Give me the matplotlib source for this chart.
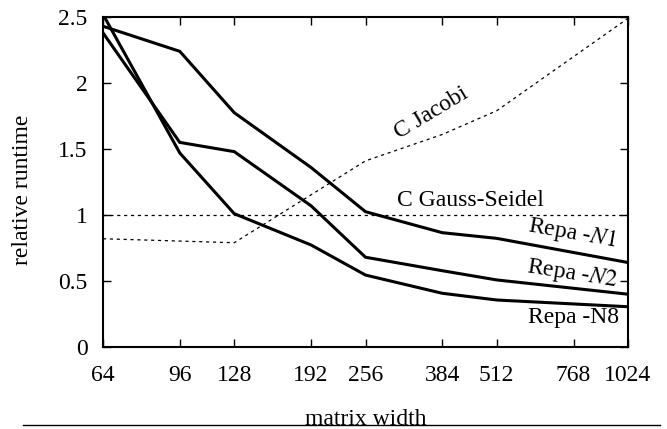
import matplotlib
matplotlib.use("Agg")
import matplotlib.pyplot as plt
from matplotlib.lines import Line2D

plt.rcParams['font.family'] = ['Liberation Serif', 'DejaVu Serif']
plt.rcParams['mathtext.fontset'] = 'stix'

x_ticks = [64, 96, 128, 192, 256, 384, 512, 768, 1024]
x_tick_labels = ['64', '96', '128', '192', '256', '384', '512', '768', '1024']
y_ticks = [0, 0.5, 1, 1.5, 2, 2.5]
y_tick_labels = ['0', '0.5', '1', '1.5', '2', '2.5']

repa_x = [64, 96, 128, 192, 256, 384, 512, 1024]
repa_n1 = [2.43, 2.24, 1.775, 1.36, 1.025, 0.866, 0.823, 0.64]
repa_n2 = [2.38, 1.55, 1.48, 1.07, 0.68, 0.578, 0.508, 0.40]
repa_n8 = [2.52, 1.47, 1.01, 0.773, 0.545, 0.407, 0.356, 0.305]

jacobi_x = [64, 128, 256, 384, 512, 1024]
jacobi = [0.82, 0.79, 1.41, 1.61, 1.79, 2.49]

gs_x = [64, 1024]
gauss_seidel = [1.0, 1.0]

fig = plt.figure(figsize=(6.67, 4.29), dpi=100)
ax = fig.add_axes([103/667, 1 - 347/429, 525/667, 330/429])

ax.set_xscale('log', base=2)
ax.set_xlim(64, 1024)
ax.set_ylim(0, 2.5)

for ys in (repa_n1, repa_n2, repa_n8):
    ax.plot(repa_x, ys, color='black', lw=2.2, solid_joinstyle='miter', clip_on=True)
ax.plot(jacobi_x, jacobi, color='black', lw=0.9, dashes=(2.5, 3.0))
ax.plot(gs_x, gauss_seidel, color='black', lw=0.9, dashes=(2.5, 3.0))

ax.set_xticks(x_ticks)
ax.set_xticklabels(x_tick_labels)
ax.xaxis.set_minor_locator(matplotlib.ticker.NullLocator())
ax.set_yticks(y_ticks)
ax.set_yticklabels(y_tick_labels)

fs = 17
ax.tick_params(direction='in', length=6, width=1.0, top=True, right=True,
               labelsize=fs)
ax.tick_params(axis='x', pad=13)
ax.tick_params(axis='y', pad=11)
for s in ax.spines.values():
    s.set_linewidth(1.5)

ax.set_ylabel('relative runtime', fontsize=fs)
ax.yaxis.set_label_coords(-70/525, 0.5 - 8/330)

def px(xp, yp):
    return (xp / 667, 1 - yp / 429)

fig.text(*px(431, 113), 'C Jacobi', fontsize=fs, rotation=31,
         ha='center', va='center', rotation_mode='anchor')
fig.text(*px(470, 200), 'C Gauss-Seidel', fontsize=fs, ha='center', va='center')
fig.text(*px(572, 233), 'Repa -$\\mathit{N1}$', fontsize=fs, rotation=-10,
         ha='center', va='center', rotation_mode='anchor')
fig.text(*px(572, 274), 'Repa -$\\mathit{N2}$', fontsize=fs, rotation=-9,
         ha='center', va='center', rotation_mode='anchor')
fig.text(*px(573, 317), 'Repa -N8', fontsize=fs, ha='center', va='center')

fig.text(*px(366, 425), 'matrix width', fontsize=fs, ha='center', va='baseline')
fig.add_artist(Line2D([23/667, 660/667], [1 - 424.5/429, 1 - 424.5/429],
                      color='black', lw=1.0, transform=fig.transFigure))

fig.savefig('out.png', dpi=100)
